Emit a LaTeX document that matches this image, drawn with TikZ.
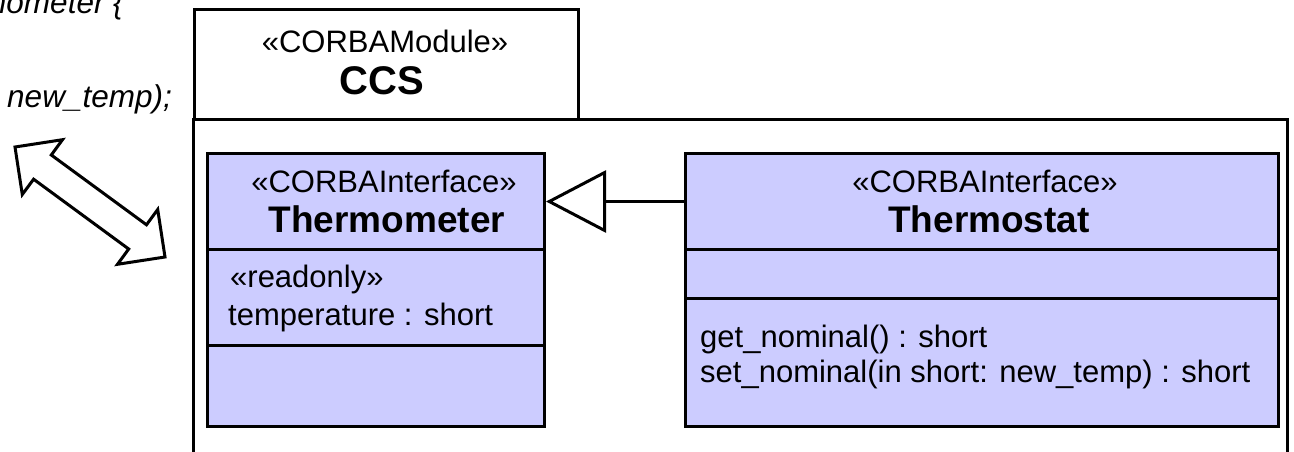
\documentclass[tikz,border=0pt]{standalone}
\usepackage{fontspec}
\setmainfont{Liberation Sans}
\usetikzlibrary{arrows.meta}
\definecolor{iface}{HTML}{CCCCFF}
\tikzset{
  comp/.style={draw=black, fill=iface, line width=3pt, inner sep=0pt, anchor=north west, rectangle},
  txt/.style={inner sep=0pt, font=\fontsize{31}{37}\selectfont},
  bold/.style={inner sep=0pt, font=\fontsize{37}{43}\selectfont\bfseries},
  bigbold/.style={inner sep=0pt, font=\fontsize{40}{46}\selectfont\bfseries},
  code/.style={inner sep=0pt, font=\fontsize{31.5}{37}\selectfont\itshape},
  pkg/.style={draw=black, line width=3pt},
  gen/.style={draw=black, line width=3pt, -{Triangle[fill=white, length=60pt, width=62pt, line width=3pt]}},
  blockarrow/.style={draw=black, fill=white, line width=3pt, line join=miter}
}
\begin{document}
\begin{tikzpicture}[x=1pt,y=-1pt]
\useasboundingbox (0,0) rectangle (1294,452);
\fill[white] (0,0) rectangle (1294,452);

% package tab and body
\coordinate (bodyBL) at (193,452);
\coordinate (bodyTL) at (193,119);
\coordinate (bodyTR) at (1287,119);
\coordinate (bodyBR) at (1287,452);
\draw[pkg] (bodyBL) -- (bodyTL) -- (bodyTR) -- (bodyBR);
\node[pkg, rectangle, anchor=north west, minimum width=384pt, minimum height=110pt, inner sep=0pt] (tab) at (193,8) {};
\node[txt, anchor=base] (modSt) at (385,53) {«CORBAModule»};
\node[bigbold, anchor=base] (modName) at (382,95) {CCS};

% Thermometer
\node[comp, minimum width=337pt, minimum height=96pt] (tmHead) at (206,152) {};
\node[comp, minimum width=337pt, minimum height=96pt] (tmAttr) at (206,248) {};
\node[comp, minimum width=337pt, minimum height=81pt] (tmOps) at (206,344) {};
\node[txt, anchor=base] (tmSt) at (384,192) {«CORBAInterface»};
\node[bold, anchor=base] (tmName) at (387,232) {Thermometer};
\node[txt, anchor=base west] (tmRo) at (230,287) {«readonly»};
\node[txt, anchor=base west] (tmTemp) at (228,325) {temperature : short};

% Thermostat
\node[comp, minimum width=593pt, minimum height=96pt] (tsHead) at (684,152) {};
\node[comp, minimum width=593pt, minimum height=49pt] (tsAttr) at (684,248) {};
\node[comp, minimum width=593pt, minimum height=128pt] (tsOps) at (684,297) {};
\node[txt, anchor=base] (tsSt) at (985,192) {«CORBAInterface»};
\node[bold, anchor=base] (tsName) at (989,232) {Thermostat};
\node[txt, anchor=base west] (tsOp1) at (700,347) {get\_nominal() : short};
\node[txt, anchor=base west] (tsOp2) at (700,382) {set\_nominal(in short: new\_temp) : short};

% generalization
\draw[gen] (tsHead.west) -- (tmHead.east);

% code fragments on the left
\begin{scope}
\clip (0,0) rectangle (1294,452);
\node[code, anchor=base east] (codeTop) at (124,14) {Thermometer \{};
\end{scope}
\node[code, anchor=base east] (codeMid) at (172,107) {new\_temp);};

% double block arrow
\draw[blockarrow] (15,147) -- (22.3,194.5) -- (33.6,179.2) -- (128.7,249.0) -- (117.5,264.3)
  -- (165,257) -- (157.7,209.5) -- (146.5,224.8) -- (51.3,155.0) -- (62.5,139.7) -- cycle;
\end{tikzpicture}
\end{document}
